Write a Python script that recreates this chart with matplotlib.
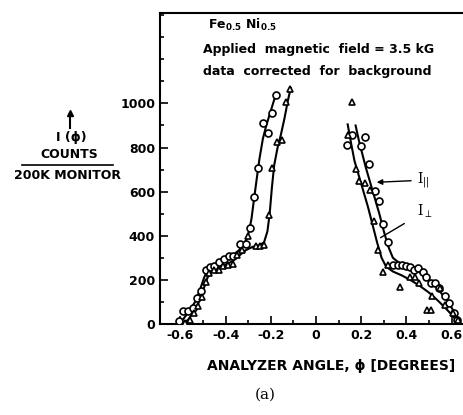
import matplotlib
matplotlib.use("Agg")
import matplotlib.pyplot as plt
from matplotlib.ticker import MultipleLocator

# ---- data ----
# I_parallel (circles), left branch
par_left_phi = [-0.606, -0.587, -0.568, -0.546, -0.528, -0.510, -0.488, -0.469, -0.450, -0.428,
                -0.407, -0.386, -0.369, -0.336, -0.311, -0.292, -0.275, -0.255, -0.236, -0.214, -0.196, -0.177]
par_left_I = [14, 60, 60, 71, 120, 150, 245, 260, 264, 280,
              294, 309, 309, 362, 362, 435, 574, 705, 912, 867, 958, 1038]
# I_perp (triangles), left branch
perp_left_phi = [-0.580, -0.557, -0.538, -0.524, -0.506, -0.487, -0.472, -0.450, -0.429, -0.410,
                 -0.391, -0.369, -0.348, -0.326, -0.300, -0.267, -0.248, -0.229, -0.207, -0.193,
                 -0.174, -0.152, -0.133, -0.115]
perp_left_I = [6, 18, 49, 83, 124, 192, 233, 245, 245, 264,
               268, 273, 314, 336, 397, 355, 355, 359, 495, 705,
               826, 836, 1006, 1067]
# I_parallel (circles), right branch
par_right_phi = [0.139, 0.158, 0.199, 0.217, 0.236, 0.261, 0.279, 0.298, 0.317, 0.339, 0.361,
                 0.379, 0.398, 0.416, 0.435, 0.453, 0.472, 0.487, 0.509, 0.527, 0.546, 0.571,
                 0.590, 0.608, 0.623]
par_right_I = [810, 859, 809, 849, 727, 605, 556, 453, 370, 268, 268,
               268, 264, 258, 245, 253, 238, 215, 188, 188, 162, 127,
               94, 49, 18]
# I_perp (triangles), right branch
perp_right_phi = [0.140, 0.161, 0.177, 0.192, 0.217, 0.239, 0.258, 0.276, 0.295, 0.320, 0.372,
                  0.416, 0.438, 0.457, 0.490, 0.507, 0.512, 0.549, 0.571, 0.606, 0.628]
perp_right_I = [859, 1006, 703, 647, 640, 609, 465, 336, 238, 268, 170,
                215, 215, 185, 64, 64, 127, 162, 86, 50, 18]

# hand-drawn fit curves
fit_par_left_phi = [-0.605, -0.585, -0.560, -0.535, -0.515, -0.495, -0.480, -0.460, -0.430, -0.400,
                    -0.370, -0.340, -0.320, -0.305, -0.295, -0.285, -0.275, -0.262, -0.250, -0.235,
                    -0.220, -0.205, -0.190, -0.178]
fit_par_left_I = [0, 25, 60, 100, 150, 210, 245, 262, 278, 292,
                  310, 335, 360, 390, 425, 480, 560, 660, 750, 840,
                  900, 950, 1000, 1040]
fit_perp_left_phi = [-0.590, -0.565, -0.540, -0.520, -0.500, -0.480, -0.460, -0.430, -0.400, -0.370,
                     -0.340, -0.310, -0.280, -0.250, -0.230, -0.215, -0.205, -0.195, -0.185,
                     -0.170, -0.155, -0.140, -0.125, -0.112]
fit_perp_left_I = [0, 20, 55, 95, 150, 210, 240, 255, 268, 285,
                   310, 335, 350, 357, 370, 420, 500, 620, 720,
                   800, 860, 930, 1010, 1070]
fit_par_right_phi = [0.175, 0.190, 0.205, 0.220, 0.240, 0.260, 0.280, 0.300, 0.320, 0.340,
                     0.370, 0.400, 0.430, 0.460, 0.490, 0.520, 0.550, 0.580, 0.605, 0.625, 0.640]
fit_par_right_I = [900, 830, 770, 710, 640, 570, 500, 420, 350, 300,
                   275, 262, 250, 233, 210, 180, 145, 105, 65, 30, 0]
fit_perp_right_phi = [0.140, 0.155, 0.170, 0.190, 0.210, 0.230, 0.250, 0.270, 0.290, 0.310,
                      0.340, 0.380, 0.420, 0.460, 0.500, 0.540, 0.570, 0.600, 0.620, 0.635]
fit_perp_right_I = [905, 820, 740, 670, 600, 530, 450, 370, 300, 260,
                    238, 220, 198, 172, 142, 105, 75, 42, 18, 0]

xticks = [-0.6, -0.4, -0.2, 0.0, 0.2, 0.4, 0.6]
xtick_labels = ["-0.6", "-0.4", "-0.2", "0", "0.2", "0.4", "0.6"]
yticks = [0, 200, 400, 600, 800, 1000]
ytick_labels = ["0", "200", "400", "600", "800", "1000"]

# ---- figure ----
W, H = 463, 415
fig = plt.figure(figsize=(W / 100, H / 100), dpi=100)
ax = fig.add_axes([160 / W, 1 - 324 / H, (463 - 160) / W, (324 - 13) / H])

fit_kw = dict(color="black", lw=1.5, zorder=2)
ax.plot(fit_par_left_phi, fit_par_left_I, **fit_kw)
ax.plot(fit_perp_left_phi, fit_perp_left_I, **fit_kw)
ax.plot(fit_par_right_phi, fit_par_right_I, **fit_kw)
ax.plot(fit_perp_right_phi, fit_perp_right_I, **fit_kw)

mk = dict(linestyle="none", mfc="white", mec="black", mew=1.2, zorder=3)
ax.plot(par_left_phi, par_left_I, marker="o", ms=5, **mk)
ax.plot(par_right_phi, par_right_I, marker="o", ms=5, **mk)
ax.plot(perp_left_phi, perp_left_I, marker="^", ms=5, **mk)
ax.plot(perp_right_phi, perp_right_I, marker="^", ms=5, **mk)

ax.set_xlim(-0.69, 0.65)
ax.set_ylim(0, 1410)
ax.set_xticks(xticks)
ax.set_xticklabels(xtick_labels)
ax.set_yticks(yticks)
ax.set_yticklabels(ytick_labels)
ax.xaxis.set_minor_locator(MultipleLocator(0.1))
ax.yaxis.set_minor_locator(MultipleLocator(100))
ax.tick_params(which="both", direction="in", width=1.2, labelsize=9)
ax.tick_params(which="major", length=6)
ax.tick_params(which="minor", length=3)
for lab in ax.get_xticklabels() + ax.get_yticklabels():
    lab.set_fontweight("bold")
for s in ["left", "bottom", "top"]:
    ax.spines[s].set_linewidth(1.5)
ax.spines["right"].set_visible(False)

# annotations inside plot
tkw = dict(fontsize=9, fontweight="bold", transform=fig.transFigure, va="center", ha="left")
fig.text(208 / W, 1 - 25 / H, r"Fe$_{\mathbf{0.5}}$ Ni$_{\mathbf{0.5}}$", **tkw)
fig.text(203 / W, 1 - 50 / H, "Applied  magnetic  field = 3.5 kG", **tkw)
fig.text(203 / W, 1 - 71 / H, "data  corrected  for  background", **tkw)

ax.annotate(r"I$_{||}$", xy=(0.256, 642), xytext=(0.445, 652),
            fontsize=10, va="center", ha="left", family="serif",
            arrowprops=dict(arrowstyle="-|>", color="black", lw=1, mutation_scale=8))
ax.annotate(r"I$_{\perp}$", xy=(0.275, 385), xytext=(0.445, 510),
            fontsize=10, va="center", ha="left", family="serif",
            arrowprops=dict(arrowstyle="-", color="black", lw=1, shrinkA=8))

# y label block
fig.add_artist(plt.Line2D([70 / W, 70 / W], [1 - 128 / H, 1 - 116 / H], color="black", lw=1.5,
                          transform=fig.transFigure))
fig.add_artist(plt.Line2D([70 / W], [1 - 113 / H], marker="^", ms=5, color="black",
                          transform=fig.transFigure))
fig.text(71 / W, 1 - 137 / H, "I (ϕ)", fontsize=9, fontweight="bold", ha="center", va="center")
fig.text(69 / W, 1 - 154 / H, "COUNTS", fontsize=9, fontweight="bold", ha="center", va="center")
fig.add_artist(plt.Line2D([22 / W, 113 / W], [1 - 165 / H, 1 - 165 / H], color="black", lw=1.2,
                          transform=fig.transFigure))
fig.text(68 / W, 1 - 175 / H, "200K MONITOR", fontsize=9, fontweight="bold", ha="center", va="center")

# x label
fig.text(331 / W, 1 - 366 / H, "ANALYZER ANGLE, ϕ [DEGREES]", fontsize=10, fontweight="bold",
         ha="center", va="center")
fig.text(265 / W, 1 - 395 / H, "(a)", fontsize=11, family="DejaVu Serif", ha="center", va="center")

fig.savefig("out.png", dpi=100)
